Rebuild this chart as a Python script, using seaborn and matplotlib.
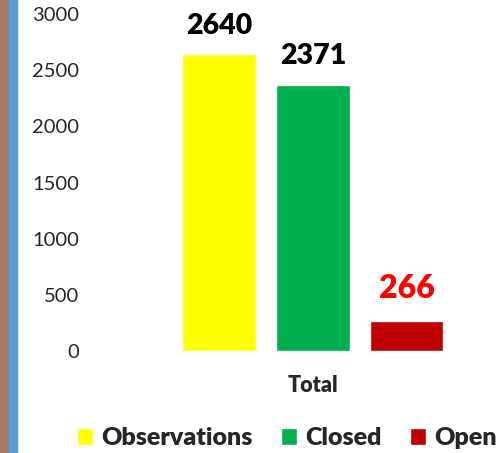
import matplotlib
matplotlib.use("Agg")
import matplotlib.pyplot as plt
from matplotlib.patches import Rectangle
import seaborn as sns
import pandas as pd

categories = ["Total", "Total", "Total"]
series = ["Observations", "Closed", "Open"]
values = [2640, 2371, 266]
colors = ["#FFFF00", "#00B050", "#C00000"]
label_colors = ["black", "black", "#FF0000"]
label_sizes = [20.5, 20.5, 23]
label_pads = [11, 11, 13]
yticks = [0, 500, 1000, 1500, 2000, 2500, 3000]

sns.set_theme(style="white")
plt.rcParams["font.family"] = ["Lato", "DejaVu Sans"]

df = pd.DataFrame({"cat": categories, "series": series, "value": values})

fig = plt.figure(figsize=(4.99, 4.53), dpi=100)
fig.patch.set_facecolor("white")
# decorative left strip
fig.patches.append(Rectangle((0, 0), 9 / 499, 1, transform=fig.transFigure,
                             color="#A57A6B", zorder=0))
fig.patches.append(Rectangle((9 / 499, 0), 8 / 499, 1, transform=fig.transFigure,
                             color="#5B9BD5", zorder=0))

ax = fig.add_axes([85 / 499, (453 - 351) / 453, (499 - 85) / 499, 351 / 453])
sns.barplot(data=df, x="cat", y="value", hue="series", hue_order=series,
            palette=colors, width=0.8, gap=0.21, saturation=1, ax=ax,
            legend=True)

ax.set_xlim(-0.650, 0.5305)
ax.set_ylim(0, 3125)
ax.set_yticks(yticks)
ax.set_yticklabels([str(v) for v in yticks], fontsize=14.5)
ax.tick_params(axis="y", length=0, pad=4)
ax.tick_params(axis="x", length=0, pad=17)
for t in ax.get_xticklabels():
    t.set_fontsize(15.5)
    t.set_fontweight("heavy")
ax.set_xlabel("")
ax.set_ylabel("")
for s in ax.spines.values():
    s.set_visible(False)

for cont, c, fs, pd_ in zip(ax.containers, label_colors, label_sizes, label_pads):
    ax.bar_label(cont, padding=pd_, fontsize=fs, fontweight="heavy", color=c)

handles, labels = ax.get_legend_handles_labels()
ax.get_legend().remove()
fig.legend(handles, labels, loc="center", bbox_to_anchor=(0.575, 0.033),
           ncol=3, frameon=False, handlelength=0.64, handleheight=0.64,
           handletextpad=0.36, columnspacing=1.1,
           prop={"size": 18, "weight": "heavy"})

fig.savefig("out.png", dpi=100)
